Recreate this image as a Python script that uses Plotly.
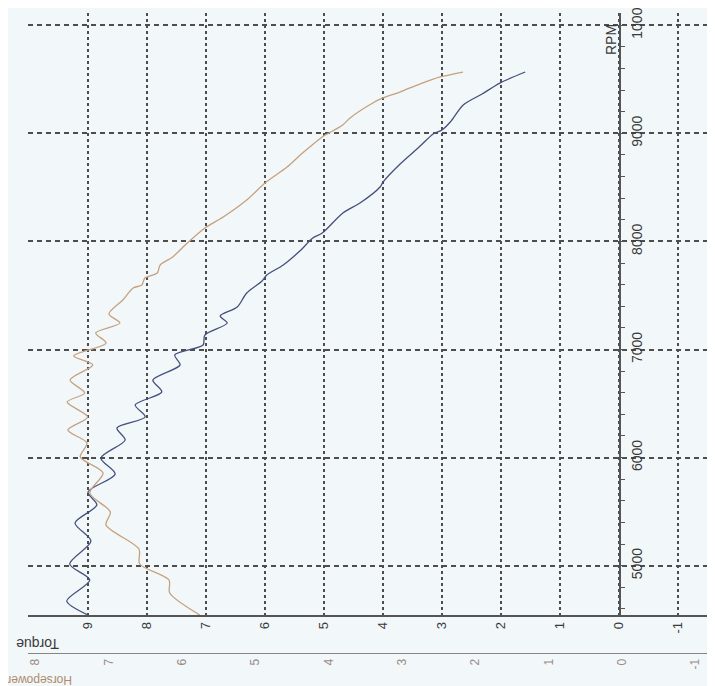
import plotly.graph_objects as go

# ---- data ----
rpm_torque = [4544, 4673, 4868, 5016, 5228, 5395, 5562, 5682, 5848, 5996,
              6163, 6274, 6376, 6487, 6607, 6718, 6857, 6949, 7042, 7134,
              7245, 7310, 7393, 7523, 7634, 7689, 7782, 7911, 8031, 8077,
              8263, 8355, 8503, 8549, 8716, 8882, 8994, 9031, 9105, 9262,
              9364, 9465, 9567]
torque = [9.00, 9.36, 8.97, 9.31, 8.95, 9.22, 8.85, 9.00, 8.54, 8.78,
          8.37, 8.51, 8.03, 8.20, 7.75, 7.90, 7.44, 7.53, 7.05, 7.02,
          6.64, 6.76, 6.47, 6.31, 6.05, 5.97, 5.69, 5.41, 5.19, 5.03,
          4.68, 4.39, 4.05, 4.00, 3.71, 3.37, 3.15, 3.00, 2.86, 2.64,
          2.32, 2.02, 1.59]

rpm_hp = [4544, 4747, 4868, 5016, 5154, 5376, 5497, 5673, 5858, 6006,
          6135, 6255, 6376, 6514, 6598, 6718, 6857, 6940, 7060, 7153,
          7245, 7328, 7458, 7569, 7597, 7661, 7708, 7782, 7856, 7985,
          8124, 8226, 8383, 8540, 8688, 8799, 8873, 8966, 9077, 9142,
          9281, 9327, 9382, 9456, 9521, 9567]
horsepower = [5.76, 6.17, 6.18, 6.58, 6.59, 7.04, 6.98, 7.26, 7.08, 7.39,
              7.30, 7.56, 7.29, 7.57, 7.33, 7.53, 7.22, 7.48, 7.04, 7.18,
              6.85, 7.00, 6.81, 6.67, 6.55, 6.51, 6.34, 6.30, 6.13, 5.93,
              5.69, 5.44, 5.12, 4.87, 4.57, 4.39, 4.26, 4.09, 3.81, 3.71,
              3.40, 3.26, 3.03, 2.76, 2.48, 2.17]

torque_ticks = [9, 8, 7, 6, 5, 4, 3, 2, 1, 0, -1]
hp_ticks = [8, 7, 6, 5, 4, 3, 2, 1, 0, -1]
rpm_ticks = [5000, 6000, 7000, 8000, 9000, 10000]
rpm_labels = ["5000", "6000", "7000", "8000", "9000", "1000"]

# ---- layout geometry (page body has an 8px margin) ----
OFF = 8
W, H = 715 - OFF, 686 - OFF
ML, MR, MT, MB = 28 - OFF, 0, 13 - OFF, 20
plot_w = W - ML - MR
paper_h = H - MT - MB


def px_x(px):
    """reference screen x -> paper fraction"""
    return (px - OFF - ML) / plot_w


def px_y(py):
    """reference screen y -> paper fraction"""
    return (H - MB - (py - OFF)) / paper_h


BG = "#f2f7f9"
GRID = "#4d4d4d"
BLUE = "#44507d"
ORANGE = "#c6a17e"
FONT = "Liberation Sans, Arial, sans-serif"

fig = go.Figure()
fig.add_trace(go.Scatter(
    x=torque, y=rpm_torque, mode="lines", xaxis="x", yaxis="y",
    line=dict(color=BLUE, width=1.3, shape="spline", smoothing=0.8),
    name="Torque", showlegend=False))
fig.add_trace(go.Scatter(
    x=horsepower, y=rpm_hp, mode="lines", xaxis="x2", yaxis="y",
    line=dict(color=ORANGE, width=1.3, shape="spline", smoothing=0.8),
    name="Horsepower", showlegend=False))

fig.update_layout(
    width=W, height=H,
    margin=dict(l=ML, r=MR, t=MT, b=MB, pad=0),
    paper_bgcolor=BG, plot_bgcolor=BG,
    font=dict(family=FONT, color="#333333"),
    showlegend=False,
    xaxis=dict(
        range=[(619 - 28) / 59.0, (619 - 715) / 59.0],
        domain=[0, 1], anchor="y",
        tickmode="array", tickvals=torque_ticks,
        ticktext=[str(v) for v in torque_ticks],
        tickangle=-90, ticks="", tickfont=dict(size=13, color="#3a3a3a"),
        ticklabeloverflow="allow",
        showgrid=True, gridcolor=GRID, gridwidth=1.6, griddash="3px,3px",
        showline=True, linecolor="#555555", linewidth=1.6,
        zeroline=False, automargin=False, fixedrange=True,
    ),
    xaxis2=dict(
        range=[(622 - 28) / 73.3, (622 - 715) / 73.3],
        overlaying="x", anchor="free", position=px_y(653),
        side="bottom",
        tickmode="array", tickvals=hp_ticks,
        ticktext=[str(v) for v in hp_ticks],
        tickangle=-90, ticks="", tickfont=dict(size=12, color="#9a8c86"),
        ticklabeloverflow="allow",
        showgrid=False, showline=True, linecolor="#8a8580", linewidth=1.1,
        zeroline=False, automargin=False, fixedrange=True,
    ),
    yaxis=dict(
        range=[4544, 10113],
        domain=[px_y(615), 1],
        anchor="free", position=px_x(619.5), side="right",
        tickmode="array", tickvals=rpm_ticks, ticktext=rpm_labels,
        tickangle=-90, ticks="outside", ticklen=5, tickcolor="#555555",
        tickfont=dict(size=14, color="#3a3a3a"),
        ticklabeloverflow="allow",
        minor=dict(tickmode="linear", tick0=4000, dtick=200, ticks="outside",
                   ticklen=5, tickcolor="#555555", showgrid=False),
        showgrid=True, gridcolor=GRID, gridwidth=1.6, griddash="5px,4px",
        showline=True, linecolor="#555555", linewidth=1.6,
        zeroline=False, automargin=False, fixedrange=True,
    ),
    annotations=[
        dict(text="Torque", xref="paper", yref="paper",
             x=px_x(38), y=px_y(644), showarrow=False, textangle=180,
             xanchor="center", yanchor="middle",
             font=dict(size=14, color="#3a3a3a", family=FONT)),
        dict(text="Horsepower", xref="paper", yref="paper",
             x=px_x(40), y=px_y(680), showarrow=False, textangle=180,
             xanchor="center", yanchor="middle",
             font=dict(size=12, color="#b08a6a", family=FONT)),
        dict(text="RPM", xref="paper", yref="paper",
             x=px_x(611), y=px_y(40), showarrow=False, textangle=-90,
             xanchor="center", yanchor="middle",
             font=dict(size=14, color="#3a3a3a", family=FONT)),
    ],
)

fig.write_html("out.html")
